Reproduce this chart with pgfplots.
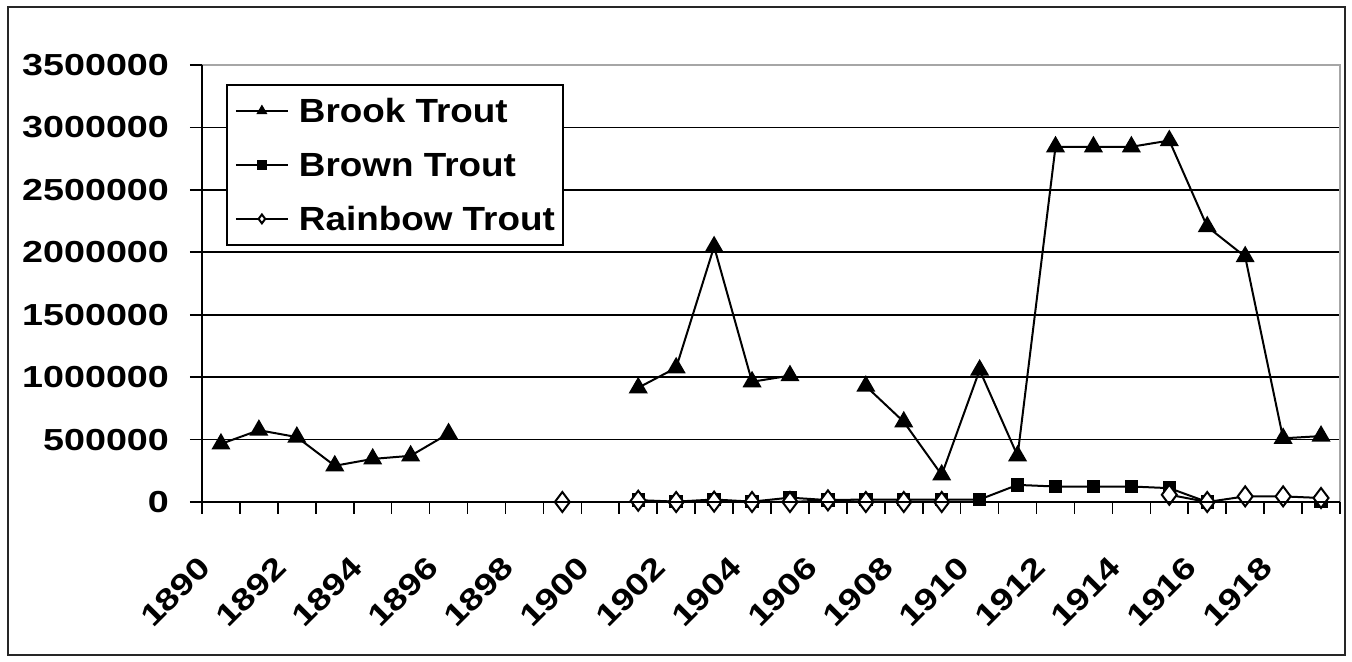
\documentclass[border=0pt]{standalone}
\usepackage{pgfplots}
\pgfplotsset{compat=1.18}
\usepackage{fontspec}
\setmainfont{Liberation Sans}
\newfontfamily\tickf{Liberation Sans}[FakeStretch=1.24]
\newfontfamily\legf{Liberation Sans}[FakeStretch=1.1]

\pgfplotstableread{
x brook brown rainbow
0 465000 nan nan
1 575000 nan nan
2 520000 nan nan
3 290000 nan nan
4 345000 nan nan
5 370000 nan nan
6 548000 nan nan
7 nan nan nan
8 nan nan nan
9 nan nan 0
10 nan nan nan
11 915000 15000 10000
12 1075000 3000 0
13 2045000 20000 3000
14 963000 3000 0
15 1012000 35000 0
16 nan 15000 13000
17 928000 20000 0
18 642000 20000 0
19 217000 20000 0
20 1057000 20000 nan
21 370000 137000 nan
22 2845000 124000 nan
23 2845000 124000 nan
24 2845000 124000 nan
25 2895000 111000 58000
26 2205000 0 0
27 1965000 nan 45000
28 510000 nan 45000
29 528000 3000 32000
}\trout

\begin{document}
\begin{tikzpicture}
\useasboundingbox (-101pt,-80pt) rectangle (575pt,251pt);
\draw[line width=1.3pt, black!85] (-97pt,-76.5pt) rectangle (571.5pt,247.5pt);
\begin{axis}[
  at={(0,0)}, anchor=south west,
  scale only axis, width=569pt, height=218.5pt,
  xmin=-0.5, xmax=29.5, ymin=0, ymax=3500000,
  ytick={0,500000,...,3500000},
  yticklabels={0,500000,1000000,1500000,2000000,2500000,3000000,3500000},
  xtick={-0.5,0.5,...,29.5},
  xticklabels={},
  extra x ticks={0,2,...,28},
  extra x tick labels={1890,1892,1894,1896,1898,1900,1902,1904,1906,1908,1910,1912,1914,1916,1918},
  extra x tick style={major tick length=0pt, tick style={draw=none}},
  ymajorgrids, grid style={black, line width=0.8pt},
  tick align=outside, xtick pos=bottom, ytick pos=left,
  major tick length=6pt,
  tick style={black, line width=0.8pt},
  axis line style={draw=none},
  yticklabel style={font=\tickf\bfseries\fontsize{15.2}{15.2}\selectfont, anchor=east, xshift=-7pt},
  xticklabel style={font=\tickf\bfseries\fontsize{15.2}{15.2}\selectfont, rotate=45, anchor=north east, xshift=-23.4pt, yshift=-6.7pt},
  scaled y ticks=false,
  unbounded coords=jump,
  clip=false,
  legend style={at={(0.0211,0.9565)}, anchor=north west, draw=black, line width=0.9pt,
    font=\legf\bfseries\fontsize{16.75}{16.75}\selectfont,
    inner xsep=4pt, inner ysep=4pt, row sep=9pt, column sep=5pt,
    nodes={inner sep=0pt, text height=15pt, text depth=3pt}},
  legend cell align=left,
  legend image code/.code={\draw[mark repeat=2,mark phase=2,mark size=2.2pt] plot coordinates {(0pt,0pt)(13pt,0pt)(26pt,0pt)};},
  after end axis/.code={
    \draw[gray!70, line width=0.8pt] (rel axis cs:0,1) -- (rel axis cs:1,1) -- (rel axis cs:1,0);
    \draw[black, line width=0.9pt] (rel axis cs:0,1) -- (rel axis cs:0,0) -- (rel axis cs:1,0);
  },
]
\addplot[black, line width=1pt, mark=triangle*, mark size=4.5pt, mark options={solid, fill=black}] table[x=x, y=brook] {\trout};
\addlegendentry{Brook Trout}
\addplot[black, line width=1pt, mark=square*, mark size=2.85pt, mark options={solid, fill=black}] table[x=x, y=brown] {\trout};
\addlegendentry{Brown Trout}
\addplot[black, line width=1pt, mark=diamond*, mark size=5pt, mark options={solid, fill=white, line width=1pt}] table[x=x, y=rainbow] {\trout};
\addlegendentry{Rainbow Trout}
\end{axis}
\end{tikzpicture}
\end{document}
